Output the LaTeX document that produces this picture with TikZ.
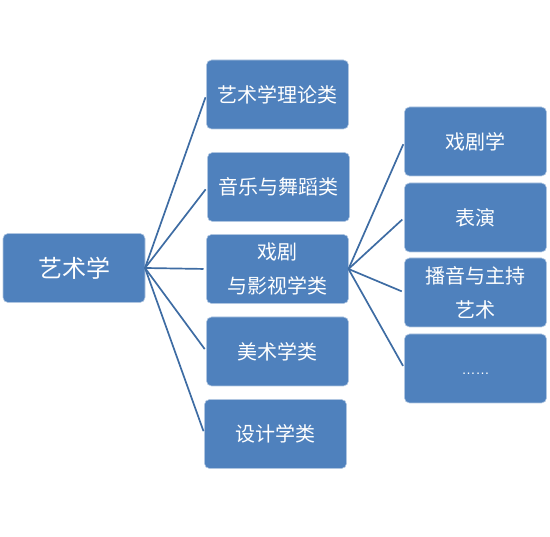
\documentclass[tikz,border=0pt]{standalone}
\usepackage{fontspec}
\setmainfont{Noto Sans CJK SC}
\newfontfamily\dotfont{Liberation Sans}
\usepackage{tkz-graph}
\definecolor{boxblue}{HTML}{4F81BD}
\definecolor{edgeblue}{HTML}{3E6CA3}

\begin{document}
\begin{tikzpicture}[x=1pt,y=-1pt]
    \GraphInit[vstyle=Normal]
    \tikzset{VertexStyle/.style={shape=rectangle, draw=white!55!boxblue, line width=0.6pt,
        fill=boxblue, rounded corners=5pt, text=white, align=center, inner sep=0pt,
        font=\fontsize{20}{34}\selectfont, minimum width=142pt, minimum height=69pt},
      EdgeStyle/.style={draw=edgeblue, line width=1.7pt, shorten >=3pt}}
    \useasboundingbox (0,0) rectangle (550,537);
    \Vertex[x=74,y=268,L={\fontsize{24}{28}\selectfont 艺术学}]{rA}

    \Vertex[x=277.5,y=94.5,L={艺术学理论类}]{mA}
    \Vertex[x=278.5,y=187,L={音乐与舞蹈类}]{mB}
    \Vertex[x=277.5,y=269,L={戏剧\\与影视学类}]{mC}
    \Vertex[x=277.5,y=351.5,L={美术学类}]{mD}
    \Vertex[x=275.5,y=434,L={设计学类}]{mE}

    \Vertex[x=475.5,y=141.5,L={戏剧学}]{sA}
    \Vertex[x=475.5,y=217.5,L={表演}]{sB}
    \Vertex[x=475.5,y=292.5,L={播音与主持\\艺术}]{sC}
    \Vertex[x=475.5,y=368.5,L={\smash{\raisebox{-6pt}{\dotfont\fontsize{14}{16}\selectfont ……}}}]{sD}

    \Edge[](rA.east)(mA.west)
    \Edge[](rA.east)(mB.west)
    \Edge[](rA.east)(mC.west)
    \Edge[](rA.east)(mD.west)
    \Edge[](rA.east)(mE.west)

    \Edge[](mC.east)(sA.west)
    \Edge[](mC.east)(sB.west)
    \Edge[](mC.east)(sC.west)
    \Edge[](mC.east)(sD.west)
\end{tikzpicture}
\end{document}
